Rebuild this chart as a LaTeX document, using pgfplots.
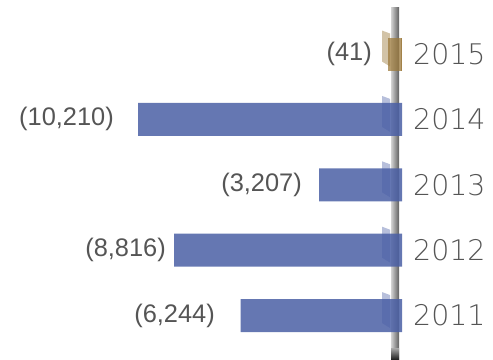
\documentclass[border=0pt]{standalone}
\usepackage{pgfplots}
\pgfplotsset{compat=1.18}
\usepackage{pgfplotstable}
\usepackage{fontspec}
\setmainfont{Liberation Sans}
\newfontfamily\thinfont{DejaVu Sans ExtraLight}
\definecolor{barblue}{HTML}{4A5FA5}
\definecolor{bartan}{HTML}{9C7A3C}
\definecolor{txtgray}{HTML}{555555}

\pgfplotstableread{
y val lx yx lab year
0 -6244 -7233 425.5 (6,244) 2011
1 -8816 -9128 425.5 (8,816) 2012
2 -3207 -3868 425.5 (3,207) 2013
3 -10210 -11139 425.5 (10,210) 2014
4 -41 -1160 425.5 (41) 2015
}\data
\pgfplotstableread{
y val
0 -6244
1 -8816
2 -3207
3 -10210
}\datablue
\pgfplotstableread{
y val
4 -41
}\datatan

\begin{document}
\begin{tikzpicture}
\begin{axis}[
  scale only axis, width=493bp, height=360bp,
  xmin=-15549, xmax=3520, ymin=-0.68, ymax=4.826,
  hide axis, clip=false,
]
\path (rel axis cs:0,0) rectangle (rel axis cs:1,1);
% vertical axis line
\shade[left color=gray!35, right color=gray!75!black] (axis cs:-425.5,-0.68) rectangle (axis cs:-116,4.704);
\shade[top color=gray!70, bottom color=black!90] (axis cs:-425.5,-0.68) rectangle (axis cs:-116,-0.50);
% bars
\addplot[xbar, bar shift=0pt, bar width=33bp, draw=none, fill=barblue, fill opacity=0.85] table[x=val,y=y]{\datablue};
\addplot[xbar, bar shift=0pt, bar width=33bp, draw=none, fill=bartan, fill opacity=0.75] table[x=val,y=y]{\datatan};
\fill[bartan, opacity=0.75] (axis cs:-541.5,3.7476) rectangle (axis cs:0,4.2524);
% flags
\fill[barblue, opacity=0.4] (axis cs:-773.6,0.359) -- (axis cs:-464,0.3136) -- (axis cs:-464,-0.191) -- (axis cs:-773.6,-0.115) -- cycle;
\fill[barblue, opacity=0.4] (axis cs:-773.6,1.359) -- (axis cs:-464,1.3136) -- (axis cs:-464,0.809) -- (axis cs:-773.6,0.885) -- cycle;
\fill[barblue, opacity=0.4] (axis cs:-773.6,2.359) -- (axis cs:-464,2.3136) -- (axis cs:-464,1.809) -- (axis cs:-773.6,1.885) -- cycle;
\fill[barblue, opacity=0.4] (axis cs:-773.6,3.359) -- (axis cs:-464,3.3136) -- (axis cs:-464,2.809) -- (axis cs:-773.6,2.885) -- cycle;
\fill[bartan, opacity=0.45] (axis cs:-773.6,4.359) -- (axis cs:-464,4.3136) -- (axis cs:-464,3.809) -- (axis cs:-773.6,3.885) -- cycle;
% value labels
\addplot[draw=none, mark=none, nodes near coords, point meta=explicit symbolic,
  nodes near coords style={anchor=east, inner sep=0pt, font=\fontsize{25.5}{25.5}\selectfont, text=txtgray}]
  table[x=lx, y=y, meta=lab]{\data};
% year labels
\addplot[draw=none, mark=none, nodes near coords, point meta=explicit symbolic,
  nodes near coords style={anchor=west, inner sep=0pt, font=\thinfont\fontsize{28.5}{28.5}\selectfont, text=txtgray}]
  table[x=yx, y=y, meta=year]{\data};
\end{axis}
\end{tikzpicture}
\end{document}
